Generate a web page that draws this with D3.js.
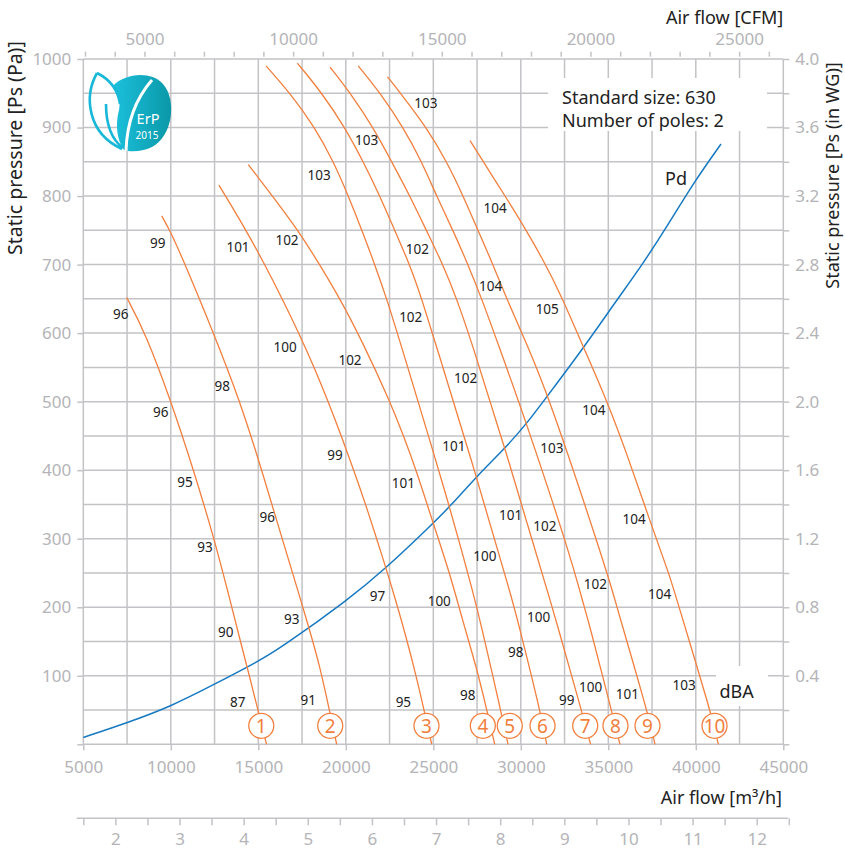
<!DOCTYPE html>
<html><head><meta charset="utf-8">
<script src="https://cdn.jsdelivr.net/npm/d3@7"></script>
<style>
body{margin:0;background:#fff;}
svg{display:block;font-family:"Noto Sans",sans-serif;}
</style></head><body>
<svg id="chart" width="845" height="852"></svg>
<script>
// ---------------- DATA (m³/h , Pa) ----------------
const fan1 = [[7480,652],[8530,601],[10010,501],[11290,401],[12470,301],[13380,211],[13980,150],[14490,100],[14980,50],[15470,0]];
const fan2 = [[9480,771],[9950,750],[10810,701],[12430,601],[13950,501],[15190,401],[16350,301],[17420,211],[17870,172],[18530,113],[19060,50],[19480,0]];
const fan3 = [[12750,816],[13270,794],[14300,750],[15350,701],[16350,651],[17300,601],[18180,551],[18980,501],[19730,451],[20440,401],[21180,347],[22300,257],[22840,211],[23410,160],[24030,99],[24470,50],[24910,0]];
const fan4 = [[14430,846],[15810,800],[17300,749],[18530,699],[19670,650],[20900,590],[22530,500],[23300,450],[24040,399],[25010,321],[25940,250],[26670,181],[27460,113],[28060,50],[28510,0]];
const fan5 = [[15440,990],[16790,951],[18240,900],[19300,850],[20150,800],[20940,749],[21670,699],[22340,650],[23070,590],[25950,347],[27380,211],[27670,181],[28850,50],[29270,0]];
const fan6 = [[17230,994],[18620,951],[19950,900],[21000,850],[21950,800],[22810,749],[23670,699],[24340,650],[25070,590],[27480,390],[29510,211],[29820,181],[31100,50],[31480,0]];
const fan7 = [[19100,988],[20240,951],[21570,900],[22620,850],[23670,800],[24620,749],[25570,699],[26340,650],[27150,590],[29100,432],[31100,259],[31670,211],[32010,181],[33480,48],[33990,0]];
const fan8 = [[20710,990],[21950,951],[23290,900],[24340,850],[25190,800],[26140,749],[27000,699],[27770,650],[28620,590],[30340,468],[32910,269],[33500,211],[33860,181],[35190,48],[35670,0]];
const fan9 = [[22380,974],[23100,951],[24620,900],[25770,850],[26710,800],[27570,749],[28430,699],[29190,650],[30240,590],[31570,510],[34710,269],[35380,211],[35710,181],[37230,48],[37670,0]];
const fan10 = [[27100,881],[27860,850],[29100,800],[29840,770],[31290,707],[32340,653],[33570,580],[34910,502],[36050,425],[37290,332],[38530,245],[38910,211],[40850,48],[41290,0]];
const fanCurves = [fan1,fan2,fan3,fan4,fan5,fan6,fan7,fan8,fan9,fan10];

// dynamic pressure Pd
const pdCurve = [[5000,10],[7460,31],[9990,55],[12450,87],[15000,121],[16240,140],[20140,211],[22300,257],[24970,322],[25950,347],[27480,391],[29100,432],[30340,468],[31570,510],[33570,578],[35480,648],[37000,702],[38340,755],[39860,819],[41440,876]];

// circled fan numbers
const markerNames = ["1","2","3","4","5","6","7","8","9","10"];
const markerFlow = [15170,19110,24610,27830,29370,31240,33680,35410,37240,41070];
const markerPressure = 27;

// dBA labels
const dbaText = ["103","103","103","104","101","102","99","102","104","96","102","105","100","102","98","102","96","104","101","103","99","95","101","101","96","104","102","93","100","97","102","104","100","100","93","90","98","103","100","101","99","87","91","95","98"];
const dbaFlow = [24570,21190,18470,28530,13840,16640,9250,24090,28280,7140,23710,31510,16530,20240,12940,26850,9420,34180,26180,31770,19380,10810,23290,29420,15510,36470,31380,11950,27950,21810,34260,37930,25340,31020,16910,13140,29710,39330,33990,36090,32620,13820,17860,23290,26970];
const dbaPressure = [936,882,831,783,726,736,732,723,669,628,624,635,580,561,522,534,484,487,435,432,422,383,381,335,332,329,319,287,274,216,234,219,209,185,183,164,134,87,84,73,64,62,65,61,72];

// axes ticks
const flowTicks = [5000,10000,15000,20000,25000,30000,35000,40000,45000];
const cfmLabels = [5000,10000,15000,20000,25000];
const paLabels = [100,200,300,400,500,600,700,800,900,1000];
const wgLabels = [0.4,0.8,1.2,1.6,2.0,2.4,2.8,3.2,3.6,4.0];
const velLabels = [2,3,4,5,6,7,8,9,10,11,12];

// ---------------- LAYOUT ----------------
const plot = {left:83.3, right:783.3, top:59, bottom:744.3};
const CFM = 1.699;
const x = d3.scaleLinear().domain([5000,45000]).range([plot.left,plot.right]);
const y = d3.scaleLinear().domain([0,1000]).range([plot.bottom,plot.top]);
const yWG = d3.scaleLinear().domain([0,4]).range([plot.bottom,plot.top]);
const xCFM = d3.scaleLinear().domain([5000/CFM,45000/CFM]).range([plot.left,plot.right]);
const xVel = d3.scaleLinear().domain([1.5,12.5]).range([plot.left,788.8]);

const gridColor = '#c3c3c7';
const tickText = '#b4b4b8';
const orange = '#f27f3d';
const blue = '#1679c2';
const dark = '#222';
const fmt = d3.format('d');

const svg = d3.select('#chart');

// grid
const g = svg.append('g');
g.selectAll('line.v').data(d3.range(5000,45001,2500)).join('line').attr('class','v')
  .attr('x1',d=>x(d)).attr('x2',d=>x(d)).attr('y1',plot.top).attr('y2',plot.bottom)
  .attr('stroke',gridColor).attr('stroke-width',1.5);
g.selectAll('line.h').data(d3.range(0,1001,50)).join('line').attr('class','h')
  .attr('x1',plot.left).attr('x2',plot.right).attr('y1',d=>y(d)).attr('y2',d=>y(d))
  .attr('stroke',gridColor).attr('stroke-width',1.5);

function styleAxis(sel, fs){
  sel.select('.domain').remove();
  sel.selectAll('.tick line').attr('stroke',gridColor).attr('stroke-width',1.5);
  sel.selectAll('.tick text').attr('fill',tickText).attr('font-size',fs).attr('font-family','"Noto Sans",sans-serif');
}
// left
const aL = svg.append('g').attr('transform',`translate(${plot.left},0)`)
  .call(d3.axisLeft(y).tickValues([0,...paLabels]).tickSize(6).tickPadding(6).tickFormat(d=>d===0?'':fmt(d)));
styleAxis(aL,17);
// right
const aR = svg.append('g').attr('transform',`translate(${plot.right},0)`)
  .call(d3.axisRight(yWG).tickValues(d3.range(0,21).map(i=>i*0.2)).tickSize(6).tickPadding(6)
  .tickFormat(d=>{const k=wgLabels.find(v=>Math.abs(v-d)<1e-6);return k?k.toFixed(1):'';}));
styleAxis(aR,17);
// top CFM
const aT = svg.append('g').attr('transform',`translate(0,56.7)`)
  .call(d3.axisTop(xCFM).tickValues(d3.range(3000,26001,1000)).tickSize(5).tickPadding(6.5)
  .tickFormat(d=>cfmLabels.includes(d)?fmt(d):''));
styleAxis(aT,17);
// bottom m3/h
const aB = svg.append('g').attr('transform',`translate(0,${plot.bottom})`)
  .call(d3.axisBottom(x).tickValues(flowTicks).tickSize(6).tickPadding(10.5).tickFormat(fmt));
styleAxis(aB,17);
// bottom velocity
svg.append('line').attr('x1',76.7).attr('x2',788).attr('y1',818.3).attr('y2',818.3)
  .attr('stroke',gridColor).attr('stroke-width',1.5);
const aV = svg.append('g').attr('transform',`translate(0,818.3)`)
  .call(d3.axisBottom(xVel).tickValues(d3.range(0,23).map(i=>1.5+i*0.5)).tickSize(7).tickPadding(7.5)
  .tickFormat(d=>velLabels.includes(d)?fmt(d):''));
styleAxis(aV,17);

// white label boxes
svg.append('rect').attr('x',548).attr('y',78).attr('width',219).attr('height',53).attr('fill','#fff');
svg.append('rect').attr('x',716).attr('y',666).attr('width',52).attr('height',40).attr('fill','#fff');

// curves
const line = d3.line().x(d=>x(d[0])).y(d=>y(d[1])).curve(d3.curveBasis);
svg.append('path').datum(pdCurve).attr('d',line).attr('fill','none').attr('stroke',blue).attr('stroke-width',1.5);
svg.append('g').selectAll('path').data(fanCurves).join('path')
  .attr('d',line).attr('fill','none').attr('stroke',orange).attr('stroke-width',1.3);

// markers
const mk = svg.append('g').selectAll('g').data(markerNames).join('g')
  .attr('transform',(d,i)=>`translate(${x(markerFlow[i])},${y(markerPressure)})`);
mk.append('circle').attr('r',12.5).attr('fill','#fff').attr('stroke',orange).attr('stroke-width',1.3);
mk.append('text').text(d=>d).attr('text-anchor','middle').attr('dy','0.36em')
  .attr('fill',orange).attr('font-size',19);

// dBA labels
svg.append('g').selectAll('text').data(dbaText).join('text')
  .attr('x',(d,i)=>x(dbaFlow[i])).attr('y',(d,i)=>y(dbaPressure[i]))
  .attr('dy','0.36em').attr('text-anchor','middle').attr('font-size',13.5).attr('fill',dark).text(d=>d);

// texts
svg.append('text').attr('x',562).attr('y',104).attr('font-size',18).attr('fill',dark).text('Standard size: 630');
svg.append('text').attr('x',562).attr('y',126.5).attr('font-size',18).attr('fill',dark).text('Number of poles: 2');
svg.append('text').attr('x',676).attr('y',179).attr('dy','0.36em').attr('text-anchor','middle').attr('font-size',18).attr('fill',dark).text('Pd');
svg.append('text').attr('x',736.7).attr('y',691.7).attr('dy','0.36em').attr('text-anchor','middle').attr('font-size',18).attr('fill',dark).text('dBA');
svg.append('text').attr('x',783.3).attr('y',24).attr('text-anchor','end').attr('font-size',18).attr('fill',dark).text('Air flow [CFM]');
svg.append('text').attr('x',782).attr('y',804).attr('text-anchor','end').attr('font-size',18).attr('fill',dark).text('Air flow [m³/h]');
svg.append('text').attr('transform','translate(22,148) rotate(-90)').attr('text-anchor','middle').attr('font-size',19.5).attr('fill',dark).text('Static pressure [Ps (Pa)]');
svg.append('text').attr('transform','translate(839,175.5) rotate(-90)').attr('text-anchor','middle').attr('font-size',18).attr('fill',dark).text('Static pressure [Ps (in WG)]');

// ErP logo
const defs = svg.append('defs');
const lg = defs.append('linearGradient').attr('id','erp').attr('x1','0').attr('x2','1').attr('y1','0').attr('y2','0');
lg.append('stop').attr('offset','0').attr('stop-color','#1cc0dc');
lg.append('stop').attr('offset','1').attr('stop-color','#0a98a8');
const logo = svg.append('g');
logo.append('path').attr('d','M113,86 C124,74 150,70 163,84 C177,100 173,136 152,147 C142,152 130,152 124,150 C117,140 115,125 119,110 C121,100 118,93 113,86 Z')
  .attr('fill','url(#erp)');
logo.append('path').attr('d','M97,73 C84,96 87,133 122,149 M97,73 C111,80 118,90 120,104 M106,104 C106,124 111,139 123,148')
  .attr('fill','none').attr('stroke','#1ab8d8').attr('stroke-width',2.6);
logo.append('path').attr('d','M152,80 C138,96 127,118 126,151').attr('fill','none').attr('stroke','#fff').attr('stroke-width',3);
logo.append('text').attr('x',148).attr('y',123.5).attr('text-anchor','middle').attr('font-size',14.5).attr('fill','#fff').text('ErP');
logo.append('text').attr('x',147).attr('y',139).attr('text-anchor','middle').attr('font-size',10).attr('fill','#fff').text('2015');
</script></body></html>
